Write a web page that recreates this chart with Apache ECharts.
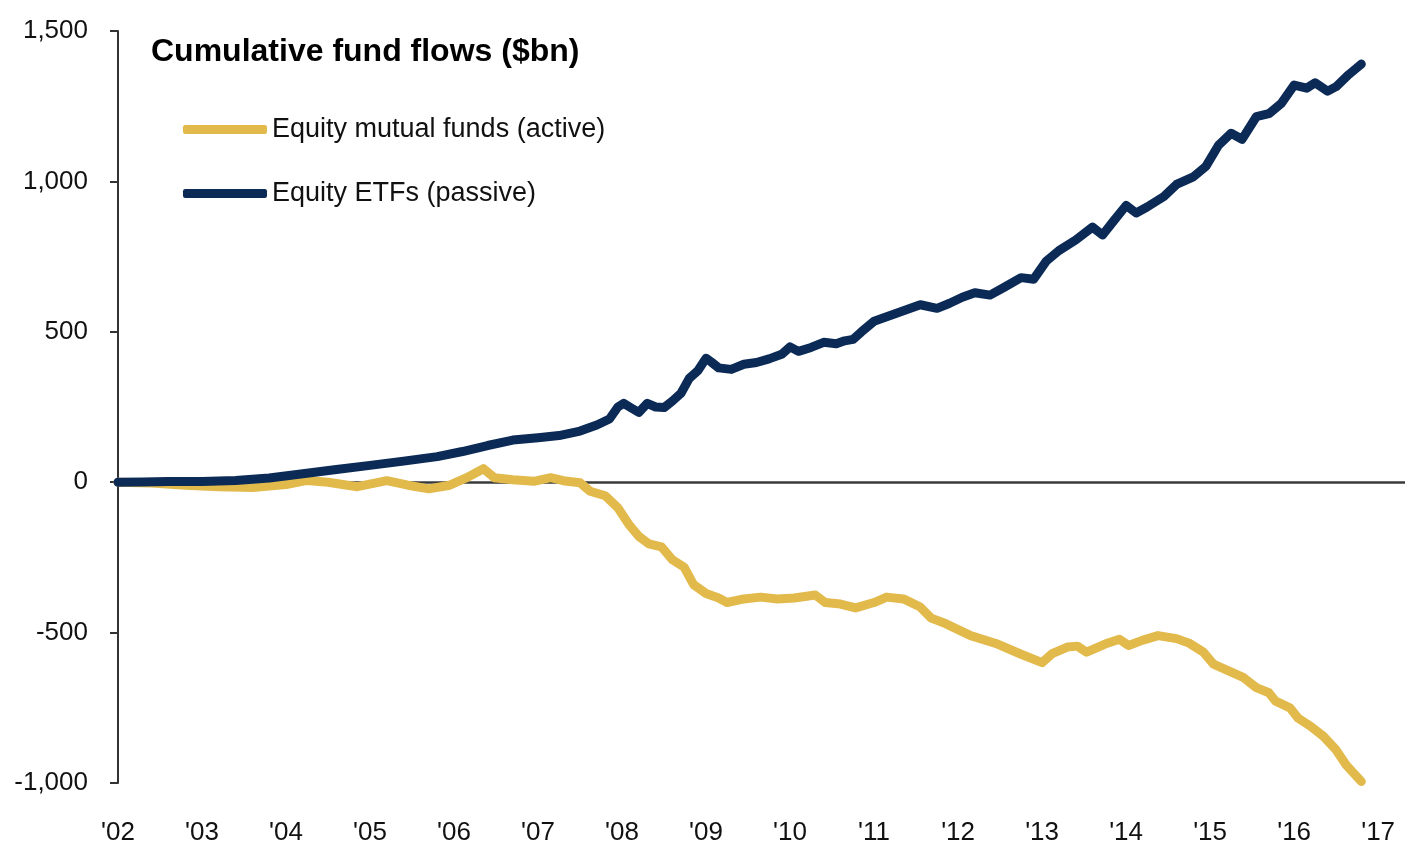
<!DOCTYPE html>
<html lang="en">
<head>
    <meta charset="UTF-8">
    <title>Cumulative fund flows</title>
    <style>
        html, body { margin: 0; padding: 0; background: #fff; }
        #main { width: 1408px; height: 853px; }
    </style>
</head>
<body>
<div id="main"></div>
<script src="https://cdn.jsdelivr.net/npm/echarts@6/dist/echarts.min.js"></script>
<script>
    // Equity mutual funds (active), cumulative flows $bn
    var mfYears = [2002.0, 2002.4, 2002.8, 2003.2, 2003.6, 2004.0, 2004.25, 2004.5, 2004.85, 2005.2,
        2005.45, 2005.7, 2005.95, 2006.15, 2006.35, 2006.48, 2006.7, 2006.95, 2007.15, 2007.3,
        2007.5, 2007.62, 2007.8, 2007.95, 2008.08, 2008.2, 2008.32, 2008.47, 2008.6, 2008.74,
        2008.85, 2009.0, 2009.15, 2009.25, 2009.45, 2009.65, 2009.85, 2010.05, 2010.3, 2010.42,
        2010.6, 2010.78, 2011.0, 2011.15, 2011.35, 2011.55, 2011.68, 2011.85, 2012.0, 2012.15,
        2012.45, 2012.75, 2013.0, 2013.12, 2013.3, 2013.42, 2013.53, 2013.75, 2013.92, 2014.03,
        2014.2, 2014.38, 2014.6, 2014.75, 2014.92, 2015.04, 2015.2, 2015.4, 2015.55, 2015.7,
        2015.78, 2015.95, 2016.05, 2016.2, 2016.35, 2016.5, 2016.62, 2016.8];
    var mfValues = [0, -3, -10, -15, -18, -8, 6, 0, -15, 5,
        -10, -22, -10, 15, 45, 15, 8, 3, 15, 5,
        -2, -30, -45, -85, -140, -180, -205, -215, -258, -283,
        -340, -370, -385, -400, -388, -382, -388, -385, -375, -400,
        -405, -418, -400, -382, -388, -415, -452, -470, -490, -510,
        -536, -572, -600, -570, -548, -545, -565, -538, -522, -543,
        -525, -510, -520, -535, -565, -605, -625, -650, -683, -700,
        -728, -750, -785, -812, -845, -890, -940, -995];

    // Equity ETFs (passive), cumulative flows $bn
    var etfYears = [2002.0, 2002.3, 2002.6, 2003.0, 2003.4, 2003.8, 2004.2, 2004.6, 2005.0, 2005.4,
        2005.8, 2006.1, 2006.4, 2006.7, 2007.0, 2007.25, 2007.5, 2007.7, 2007.85, 2007.95,
        2008.02, 2008.12, 2008.2, 2008.3, 2008.4, 2008.5, 2008.6, 2008.7, 2008.8, 2008.9,
        2009.0, 2009.06, 2009.15, 2009.3, 2009.45, 2009.6, 2009.75, 2009.9, 2010.0, 2010.1,
        2010.25, 2010.4, 2010.55, 2010.65, 2010.75, 2010.85, 2011.0, 2011.2, 2011.4, 2011.55,
        2011.75, 2011.9, 2012.05, 2012.2, 2012.38, 2012.55, 2012.75, 2012.9, 2013.05, 2013.2,
        2013.4, 2013.6, 2013.72, 2013.85, 2014.0, 2014.12, 2014.25, 2014.45, 2014.6, 2014.8,
        2014.95, 2015.1, 2015.25, 2015.38, 2015.55, 2015.7, 2015.85, 2016.0, 2016.15, 2016.25,
        2016.4, 2016.5, 2016.65, 2016.8];
    var etfValues = [0, 1, 2, 2, 6, 14, 28, 42, 56, 70,
        85, 102, 122, 140, 148, 155, 170, 190, 210, 250,
        262, 245, 232, 262, 250, 248, 270, 295, 345, 370,
        412, 400, 380, 375, 392, 398, 410, 425, 450, 435,
        448, 465, 460, 470, 475, 500, 535, 555, 575, 590,
        578, 595, 615, 630, 622, 648, 680, 675, 735, 770,
        805, 848, 822, 868, 920, 895, 915, 950, 990, 1015,
        1050, 1120, 1160, 1140, 1215, 1225, 1260, 1320, 1310, 1328,
        1300, 1315, 1355, 1390];

    var yTicks = [-1000, -500, 0, 500, 1000, 1500];
    var seriesNames = ['Equity mutual funds (active)', 'Equity ETFs (passive)'];

    var font = "'Liberation Sans', Arial, sans-serif";

    function pairs(xs, ys) {
        var out = [];
        for (var i = 0; i < xs.length; i++) {
            out.push([xs[i], ys[i]]);
        }
        return out;
    }

    var myChart = echarts.init(document.getElementById('main'));
    var option = {
        animation: false,
        backgroundColor: '#fff',
        title: {
            text: 'Cumulative fund flows ($bn)',
            left: 146,
            top: 31,
            textStyle: {
                fontFamily: font,
                fontSize: 32,
                fontWeight: 'bold',
                color: '#000'
            }
        },
        legend: {
            orient: 'vertical',
            left: 178,
            top: 111,
            itemWidth: 84,
            itemHeight: 9,
            itemGap: 37,
            icon: 'roundRect',
            data: seriesNames,
            textStyle: {
                fontFamily: font,
                fontSize: 27,
                color: '#111'
            }
        },
        grid: {
            left: 118,
            right: 0,
            top: 31,
            bottom: 70,
            containLabel: false
        },
        xAxis: {
            type: 'value',
            min: 2002,
            max: 2017.32,
            interval: 1,
            axisLine: { show: false },
            axisTick: { show: false },
            splitLine: { show: false },
            axisLabel: {
                margin: 37,
                fontFamily: font,
                fontSize: 26,
                color: '#111',
                formatter: function (v) {
                    if (Math.abs(v - Math.round(v)) > 1e-6) return '';
                    return "'" + String(Math.round(v)).slice(2);
                }
            }
        },
        yAxis: {
            type: 'value',
            min: yTicks[0],
            max: yTicks[yTicks.length - 1],
            interval: 500,
            axisLine: { show: true, lineStyle: { color: '#333', width: 2 } },
            axisTick: { show: true, inside: false, length: 8, lineStyle: { color: '#333', width: 2 } },
            splitLine: {
                show: true,
                lineStyle: {
                    // only the zero line is drawn
                    color: ['rgba(0,0,0,0)', 'rgba(0,0,0,0)', '#3a3a3a', 'rgba(0,0,0,0)', 'rgba(0,0,0,0)', 'rgba(0,0,0,0)'],
                    width: 2.5
                }
            },
            axisLabel: {
                margin: 30,
                fontFamily: font,
                fontSize: 26,
                color: '#111',
                formatter: function (v) {
                    return v.toLocaleString('en-US');
                }
            }
        },
        series: [
            {
                name: seriesNames[0],
                type: 'line',
                data: pairs(mfYears, mfValues),
                showSymbol: false,
                symbol: 'none',
                color: '#E2BA4C',
                lineStyle: { width: 9, color: '#E2BA4C', cap: 'round', join: 'round' }
            },
            {
                name: seriesNames[1],
                type: 'line',
                data: pairs(etfYears, etfValues),
                showSymbol: false,
                symbol: 'none',
                color: '#0C2A56',
                lineStyle: { width: 9, color: '#0C2A56', cap: 'round', join: 'round' }
            }
        ]
    };

    option && myChart.setOption(option);
</script>
</body>
</html>
